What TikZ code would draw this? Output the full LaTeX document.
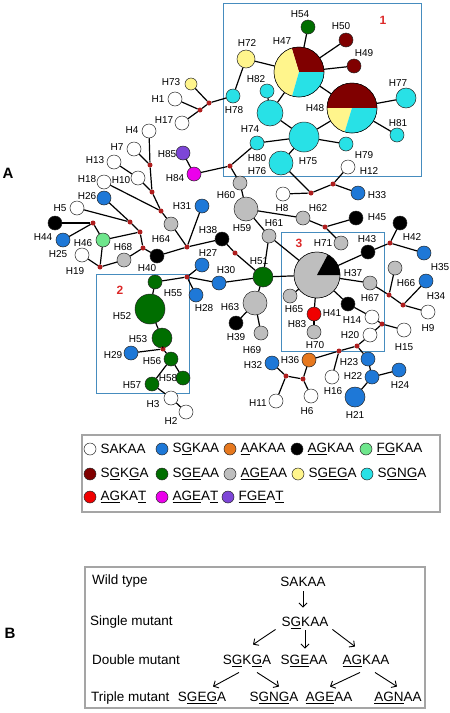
\documentclass[tikz,border=0pt]{standalone}
\usepackage{fontspec}
\setmainfont{Liberation Sans}
\usetikzlibrary{arrows.meta}

\definecolor{hblue}{RGB}{30,120,215}
\definecolor{horange}{RGB}{230,120,30}
\definecolor{hmint}{RGB}{110,230,140}
\definecolor{hmaroon}{RGB}{128,0,0}
\definecolor{hgreen}{RGB}{0,110,0}
\definecolor{hgray}{RGB}{190,190,190}
\definecolor{hyellow}{RGB}{255,245,140}
\definecolor{hcyan}{RGB}{40,225,230}
\definecolor{hred}{RGB}{240,0,0}
\definecolor{hmagenta}{RGB}{235,0,235}
\definecolor{hpurple}{RGB}{125,70,215}
\definecolor{dotred}{RGB}{175,30,30}
\definecolor{boxblue}{RGB}{70,140,190}
\definecolor{numred}{RGB}{220,40,40}
\definecolor{legframe}{RGB}{165,165,165}

\tikzset{
  hap/.style={circle, draw=black!85, line width=.5pt, inner sep=0pt, minimum size=14pt},
  rdot/.style={circle, fill=dotred, inner sep=0pt, minimum size=5pt},
  link/.style={line width=1.2pt},
  lab/.style={font=\fontsize{10}{12}\selectfont, inner sep=0pt},
  hbox/.style={draw=boxblue, line width=1pt},
  boxnum/.style={font=\fontsize{12}{14}\selectfont\bfseries, text=numred},
  panel/.style={font=\fontsize{15}{18}\selectfont\bfseries},
  leg/.style={font=\fontsize{13.5}{16}\selectfont, anchor=west, inner sep=0pt},
  seq/.style={font=\fontsize{13.5}{16}\selectfont, inner sep=0pt, text height=10pt, text depth=2.5pt},
  arr/.style={-{Straight Barb[length=4pt,width=8pt]}, line width=.9pt},
}

\begin{document}
\begin{tikzpicture}[x=1pt, y=-1pt]
  \useasboundingbox (0,0) rectangle (450,713);

  % boxes of the three clusters
  \draw[hbox] (223,3) rectangle (421,176);
  \draw[hbox] (96,274) rectangle (189,393);
  \draw[hbox] (281,232) rectangle (384,351);
  \node[boxnum] (n1) at (383,20) {1};
  \node[boxnum] (n2) at (120,290) {2};
  \node[boxnum] (n3) at (299,243) {3};
  \node[panel] (pa) at (8,173) {A};
  \node[panel] (pb) at (10,633) {B};

  % haplotypes
  \foreach \n/\p in {h1/{175,99}, h17/{182,123}, h12/{348,167}, h4/{149,131}, h7/{134,149},
      h13/{114,162}, h10/{138,178}, h18/{104,182}, h5/{77,208}, h25/{82,255}, h8/{283,194},
      h3/{171,398}, h2/{186,412}, h14/{372,317}, h15/{404,330}, h9/{428,312}, h20/{370,335},
      h16/{332,377}, h11/{276,401}, h6/{311,396}}
    \node[hap, fill=white] (\n) at (\p) {};
  \foreach \n/\p in {h26/{104,198}, h44/{63,240}, h31/{202,206}, h33/{358,193}, h27/{202,265},
      h28/{196,295}, h30/{219,283}, h29/{131,353}, h35/{424,253}, h34/{426,281}, h23/{368,359},
      h22/{372,377}, h24/{399,370}, h32/{272,363}}
    \node[hap, fill=hblue] (\n) at (\p) {};
  \foreach \n/\p in {h44b/{55,223}, h40/{157,256}, h38/{222,239}, h45/{356,218}, h43/{368,252},
      h42/{400,223}, h39/{236,323}, h41b/{348,304}}
    \node[hap, fill=black] (\n) at (\p) {};
  \foreach \n/\p in {h64/{171,224}, h68/{124,260}, h60/{240,183}, h62/{303,218}, h61/{269,236},
      h71/{341,243}, h69/{261,333}, h67/{370,283}, h66/{395,268}, h65/{290,296}, h70/{314,332}}
    \node[hap, fill=hgray] (\n) at (\p) {};
  \foreach \n/\p in {h54/{308,27}, h55/{155,282}, h56/{171,359}, h58/{183,378}, h57/{152,384}}
    \node[hap, fill=hgreen] (\n) at (\p) {};
  \foreach \n/\p in {h78/{233,96}, h82/{267,91}, h74/{257,143}, h79/{346,144}, h81/{397,135}}
    \node[hap, fill=hcyan] (\n) at (\p) {};
  \node[hap, fill=hblue, minimum size=20pt] (h21) at (355,397) {};
  \node[hap, fill=hgray, minimum size=24pt] (h59) at (246,209) {};
  \node[hap, fill=hgray, minimum size=24pt] (h63) at (255,303) {};
  \node[hap, fill=hgreen, minimum size=20pt] (h51) at (263,277) {};
  \node[hap, fill=hgreen, minimum size=30pt] (h52) at (150,309) {};
  \node[hap, fill=hgreen, minimum size=20pt] (h53) at (162,338) {};
  \node[hap, fill=hcyan, minimum size=20pt] (h77) at (406,98) {};
  \node[hap, fill=hcyan, minimum size=26pt] (h82b) at (270,113) {};
  \node[hap, fill=hcyan, minimum size=30pt] (h75) at (304,137) {};
  \node[hap, fill=hcyan, minimum size=24pt] (h80) at (281,163) {};
  \node[hap, fill=hyellow, minimum size=12pt] (h73) at (191,84) {};
  \node[hap, fill=hyellow, minimum size=18pt] (h72) at (246,59) {};
  \node[hap, fill=hmaroon] (h50) at (346,40) {};
  \node[hap, fill=hmaroon] (h49) at (354,66) {};
  \node[hap, fill=horange] (h36) at (309,360) {};
  \node[hap, fill=hred] (h41) at (314,314) {};
  \node[hap, fill=hmagenta] (h84) at (194,174) {};
  \node[hap, fill=hpurple] (h85) at (183,153) {};
  \node[hap, fill=hmint] (h46) at (103,240) {};
  \node[hap, minimum size=50pt] (h47) at (299,72) {};
  \node[hap, minimum size=50pt] (h48) at (352,108) {};
  \node[hap, minimum size=46pt] (h37) at (317,275) {};

  % mixed haplotypes
  \begin{scope}[shift={(h47.center)}, x=1pt, y=1pt]
    \fill[hmaroon] (0,0) -- (0:25) arc[start angle=0, end angle=107, radius=25] -- cycle;
    \fill[hyellow] (0,0) -- (107:25) arc[start angle=107, end angle=254, radius=25] -- cycle;
    \fill[hcyan] (0,0) -- (254:25) arc[start angle=254, end angle=360, radius=25] -- cycle;
    \draw[line width=.5pt] (0,0) circle[radius=25];
  \end{scope}
  \begin{scope}[shift={(h48.center)}, x=1pt, y=1pt]
    \fill[hmaroon] (0,0) -- (0:25) arc[start angle=0, end angle=180, radius=25] -- cycle;
    \fill[hyellow] (0,0) -- (180:25) arc[start angle=180, end angle=253, radius=25] -- cycle;
    \fill[hcyan] (0,0) -- (253:25) arc[start angle=253, end angle=360, radius=25] -- cycle;
    \draw[line width=.5pt] (0,0) circle[radius=25];
  \end{scope}
  \begin{scope}[shift={(h37.center)}, x=1pt, y=1pt]
    \fill[hgray] (0,0) circle[radius=23];
    \fill[black] (0,0) -- (0:23) arc[start angle=0, end angle=62, radius=23] -- cycle;
    \draw[line width=.5pt] (0,0) circle[radius=23];
  \end{scope}

  % median vectors
  \foreach \n/\p [count=\i] in {{209,103}, {200,110}, {230,166}, {150,165}, {152,192}, {161,211},
      {187,247}, {143,248}, {140,232}, {130,222}, {93,223}, {100,267}, {235,253}, {187,277},
      {163,349}, {311,193}, {333,184}, {325,227}, {390,243}, {389,295}, {403,305}, {382,324},
      {357,346}, {339,351}, {303,379}, {286,376}}
    \node[rdot] (d\i) at (\n) {};

  % links
  \foreach \a/\b in {h54/h47, h50/h47, h49/h47, h72/h47, h47/h48, h48/h77, h48/h81, h47/h82b,
      h82/h82b, h82b/h75, h75/h48, h75/h79, h75/h74, h75/h80, h72/h78, h78/d1, d1/h73, d1/d2,
      d2/h1, d2/h17, h74/d3, d3/h84, h84/h85, d3/h60, h80/d16, h8/d16, d16/d17, d17/h12, d17/h33,
      h4/d4, h7/d4, d4/d5, h13/h10, h10/d5, d5/d6, h18/d6, d6/h64, h64/d7, h31/d7, d7/h38,
      d7/h40, h40/d8, d8/d9, d8/h68, d9/d10, d9/h46, d10/h5, d10/h26, d11/h44b, d11/h44,
      d11/h46, h46/d12, d12/h25, d12/h68, h38/d13, d13/h51, h61/h51, h59/h60, h59/h61, h59/h62,
      h62/d18, d18/h45, d18/h71, h51/h37, h51/h30, h51/h63, h63/h39, h63/h69, h30/d14, d14/h27,
      d14/h28, d14/h55, h55/h52, h52/h53, h53/d15, d15/h29, d15/h56, h56/h58, h56/h57, h57/h3,
      h3/h2, h61/h37, h37/h43, h43/d19, d19/h42, d19/h35, h37/h67, h67/d20, d20/h66, d20/d21,
      d21/h34, d21/h9, h37/h65, h37/h41, h41/h70, h37/h41b, h41b/h14, h14/d22, d22/h15,
      d22/h20, h20/d23, d23/d24, d23/h23, h23/h22, h22/h24, h22/h21, d24/h16, d24/h36,
      h36/d25, d25/h6, d25/d26, d26/h32, d26/h11}
    \draw[link] (\a) -- (\b);

  % names
  \foreach \t/\p in {H54/{300,14}, H50/{341,26}, H49/{364,53}, H47/{282,41}, H72/{247,43},
      H48/{315,108}, H77/{398,83}, H81/{398,123}, H82/{256,79}, H78/{234,110}, H73/{171,82},
      H1/{158,99}, H17/{164,120}, H74/{250,129}, H75/{308,161}, H79/{364,155}, H80/{257,158},
      H76/{257,171}, H12/{369,171}, H85/{167,154}, H84/{175,178}, H4/{132,130}, H7/{117,147},
      H13/{95,160}, H10/{121,180}, H18/{87,179}, H26/{87,196}, H5/{60,208}, H44/{43,237},
      H46/{83,243}, H25/{58,254}, H19/{75,271}, H68/{123,247}, H64/{161,239}, H40/{147,268},
      H31/{182,206}, H38/{208,230}, H60/{226,195}, H59/{242,228}, H61/{274,223}, H62/{318,208},
      H8/{282,208}, H33/{377,195}, H45/{377,217}, H71/{323,243}, H51/{259,261}, H30/{226,270},
      H27/{208,253}, H28/{204,308}, H55/{173,293}, H52/{122,316}, H53/{138,339}, H29/{113,355},
      H56/{152,361}, H58/{168,378}, H57/{132,385}, H3/{153,404}, H2/{171,421}, H63/{230,307},
      H39/{236,337}, H69/{252,350}, H43/{367,239}, H42/{412,237}, H35/{440,267}, H37/{353,273},
      H67/{370,298}, H66/{406,283}, H34/{436,296}, H9/{428,328}, H65/{294,309}, H41/{332,313},
      H83/{297,324}, H70/{315,345}, H14/{352,320}, H15/{404,347}, H20/{350,335}, H23/{349,362},
      H22/{353,376}, H24/{400,385}, H21/{355,415}, H16/{333,391}, H36/{290,360}, H32/{253,365},
      H11/{258,403}, H6/{307,411}}
    \node[lab] (l\t) at (\p) {\t};

  % legend
  \draw[draw=legframe, line width=1.5pt] (82,435) rectangle (440,512);
  \foreach \c/\p/\t [count=\i] in {white/{90,449}/SAKAA, hblue/{162,449}/S\underline{G}KAA,
      horange/{230,449}/\underline{A}AKAA, black/{297,449}/\underline{AG}KAA,
      hmint/{366,449}/\underline{FG}KAA, hmaroon/{90,474}/S\underline{G}K\underline{G}A,
      hgreen/{162,474}/S\underline{GE}AA, hgray/{230,474}/\underline{AGE}AA,
      hyellow/{298,474}/S\underline{GEG}A, hcyan/{367,474}/S\underline{GNG}A,
      hred/{90,497}/\underline{AG}KA\underline{T}, hmagenta/{162,497}/\underline{AGE}A\underline{T},
      hpurple/{228,497}/\underline{FGE}A\underline{T}}
  {
    \node[hap, minimum size=12pt, fill=\c] (key\i) at (\p) {};
    \node[leg] (leg\i) at ([xshift=10.5pt]key\i.center) {\t};
  }

  % panel B
  \draw[draw=legframe, line width=2pt] (85,567) rectangle (425,708);
  \node[seq, anchor=west] (wt) at (92,581) {Wild type};
  \node[seq, anchor=west] (sm) at (90,622) {Single mutant};
  \node[seq, anchor=west] (dm) at (92,661) {Double mutant};
  \node[seq, anchor=west] (tm) at (91,698) {Triple mutant};
  \node[seq] (sakaa) at (303,583) {SAKAA};
  \node[seq] (sgkaa) at (305,623) {S\underline{G}KAA};
  \node[seq] (sgkga) at (247,661) {S\underline{G}K\underline{G}A};
  \node[seq] (sgeaa) at (304,661) {S\underline{GE}AA};
  \node[seq] (agkaa) at (366,661) {\underline{AG}KAA};
  \node[seq] (sgega) at (202,698) {S\underline{GEG}A};
  \node[seq] (sgnga) at (274,698) {S\underline{GNG}A};
  \node[seq] (ageaa) at (329,698) {\underline{AGE}AA};
  \node[seq] (agnaa) at (398,698) {\underline{AGN}AA};
  \draw[arr, shorten <=2pt, shorten >=9pt] (sakaa.south) -- (sakaa.south |- sgkaa.north);
  \draw[arr, shorten <=1pt, shorten >=6pt] (sgkaa.south) -- (sgkaa.south |- sgeaa.north);
  \draw[arr] ([xshift=-6pt]sgkaa.south west) -- ([xshift=6pt, yshift=10pt]sgkga.north);
  \draw[arr] ([xshift=4pt]sgkaa.south east) -- ([xshift=-11pt, yshift=8pt]agkaa.north);
  \draw[arr] ([xshift=-8pt, yshift=-5pt]sgkga.south) -- ([xshift=11pt, yshift=5pt]sgega.north);
  \draw[arr] ([xshift=10pt, yshift=-5pt]sgkga.south) -- ([xshift=5pt, yshift=5pt]sgnga.north);
  \draw[arr] ([xshift=-6pt, yshift=-5pt]agkaa.south) -- ([xshift=1pt, yshift=5pt]ageaa.north);
  \draw[arr] ([xshift=9pt, yshift=-5pt]agkaa.south) -- ([xshift=-1pt, yshift=5pt]agnaa.north);
\end{tikzpicture}
\end{document}
